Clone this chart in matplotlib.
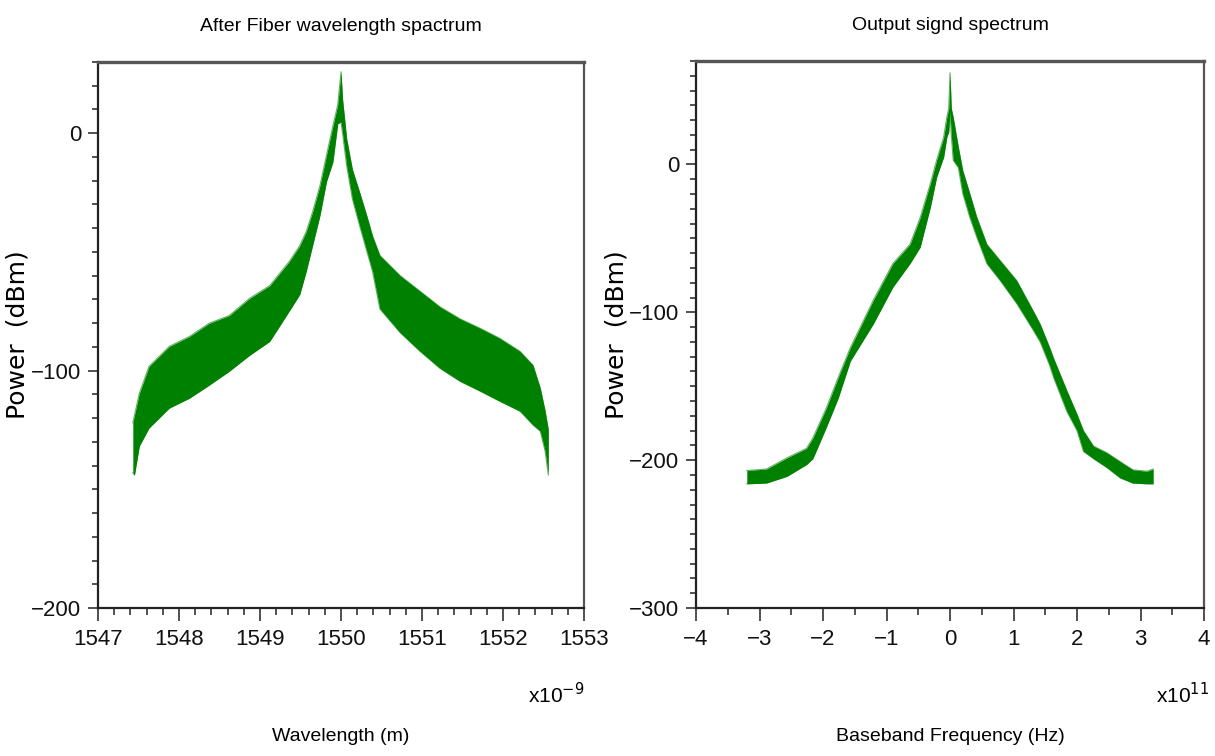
import matplotlib
matplotlib.use("Agg")
import matplotlib.pyplot as plt
from matplotlib.ticker import MultipleLocator

plt.rcParams['font.family'] = ['Liberation Sans', 'DejaVu Sans']

# left panel: wavelength (nm) with upper / lower edge of the noisy trace (dBm)
wl_nm = [1547.43, 1547.45, 1547.51, 1547.63, 1547.88, 1548.13, 1548.37, 1548.62,
         1548.87, 1549.12, 1549.36, 1549.49, 1549.57, 1549.65, 1549.74, 1549.82,
         1549.90, 1549.96, 1550.00, 1550.02, 1550.07, 1550.14, 1550.23, 1550.32,
         1550.39, 1550.48, 1550.73, 1550.97, 1551.22, 1551.47, 1551.72, 1551.96,
         1552.21, 1552.37, 1552.46, 1552.52, 1552.56]
wl_upper = [-122, -118.8, -109.6, -98.2, -89.8, -85.6, -80.1, -76.8,
            -69.6, -64.2, -54.1, -47.4, -41.5, -33.1, -22.1, -9.4,
            3.1, 12, 25.9, 14, -2.4, -15.2, -24.9, -35,
            -43.4, -51.5, -60, -66.4, -73.1, -78.2, -82.2, -86.4,
            -91.9, -97.7, -107.4, -117, -125]
wl_lower = [-143, -144, -131.8, -124.2, -115.8, -111.6, -106.2, -100.3,
            -93.6, -87.7, -75, -68, -58.3, -47.2, -34.7, -20.5,
            -12.1, 4, 4.7, -0.3, -13.7, -27.6, -39, -49.9,
            -58.3, -74, -84, -91.7, -99, -104.5, -108.7, -112.9,
            -117.1, -122.9, -125.5, -134, -144]

# right panel: baseband frequency (x1e11 Hz) with upper / lower edge (dBm)
freq = [-3.2, -2.89, -2.57, -2.26, -2.16, -1.95, -1.76, -1.57, -1.21, -0.9,
        -0.63, -0.47, -0.31, -0.21, -0.1, -0.05, -0.02, 0.0, 0.02, 0.05,
        0.13, 0.2, 0.31, 0.42, 0.58, 0.79, 1.05, 1.31, 1.42, 1.57,
        1.63, 1.84, 2.0, 2.1, 2.26, 2.47, 2.68, 2.88, 3.1, 3.2]
freq_upper = [-207, -206, -198.5, -192, -185, -165, -144, -124, -92, -67,
              -54, -36, -13, 3, 18.5, 32, 38, 62, 38, 32,
              12, -4, -19.5, -35.5, -54, -65, -78.5, -99, -108, -124,
              -131, -153, -169, -180, -190.5, -195, -201, -206.5, -207.5, -206]
freq_lower = [-216, -215.5, -211, -203, -199, -178, -158, -133, -108, -83,
              -67, -56, -29, -8.5, 5, 18.5, 22, 35, 20, 3,
              -2, -19.5, -35.5, -49, -67, -78.5, -94, -112, -120, -136,
              -144, -167, -180, -194, -199, -205, -212, -215.5, -216, -216]

GREEN = '#008000'
W, H = 1215, 756


def style_axes(ax, xmaj, xmin, ymaj, ymin):
    ax.xaxis.set_major_locator(MultipleLocator(xmaj))
    ax.xaxis.set_minor_locator(MultipleLocator(xmin))
    ax.yaxis.set_major_locator(MultipleLocator(ymaj))
    ax.yaxis.set_minor_locator(MultipleLocator(ymin))
    ax.tick_params(axis='both', which='both', direction='out', color='#333333',
                   width=1.2, labelsize=16, labelcolor='#111111')
    ax.tick_params(axis='x', which='major', length=9, pad=6)
    ax.tick_params(axis='x', which='minor', length=5)
    ax.tick_params(axis='y', which='major', length=7, pad=5)
    ax.tick_params(axis='y', which='minor', length=4)
    ax.tick_params(top=False, right=False)
    for side in ['left', 'bottom']:
        ax.spines[side].set_color('#222222')
        ax.spines[side].set_linewidth(1.6)
    for side in ['top', 'right']:
        ax.spines[side].set_color('#555555')
        ax.spines[side].set_linewidth(1.6)
    ax.spines['top'].set_linewidth(2.4)


fig = plt.figure(figsize=(W / 100, H / 100), dpi=100)

# --- left: after fiber ---
ax1 = fig.add_axes([98 / W, 1 - 608 / H, 486 / W, 546 / H])
ax1.fill_between(wl_nm, wl_lower, wl_upper, color=GREEN, linewidth=0)
ax1.plot(wl_nm, wl_upper, color=GREEN, lw=0.8, alpha=0.6)
ax1.plot(wl_nm, wl_lower, color=GREEN, lw=0.8, alpha=0.6)
ax1.set_xlim(1547, 1553)
ax1.set_ylim(-200, 30)
style_axes(ax1, 1, 0.2, 100, 10)
ax1.set_title('After Fiber wavelength spactrum', fontsize=14, pad=22)
ax1.set_xlabel('Wavelength (m)', fontsize=14, labelpad=56)
ax1.set_ylabel('Power  (dBm)', fontsize=18, family='DejaVu Sans')
ax1.yaxis.set_label_coords(-0.14, 0.5)
ax1.text(1.0, -0.174, r'x10$^{-9}$', transform=ax1.transAxes, ha='right',
         va='baseline', fontsize=15)

# --- right: output signal ---
ax2 = fig.add_axes([696 / W, 1 - 608 / H, 508 / W, 547 / H])
ax2.fill_between(freq, freq_lower, freq_upper, color=GREEN, linewidth=0)
ax2.plot(freq, freq_upper, color=GREEN, lw=0.8, alpha=0.6)
ax2.plot(freq, freq_lower, color=GREEN, lw=0.8, alpha=0.6)
ax2.set_xlim(-4, 4)
ax2.set_ylim(-300, 70)
style_axes(ax2, 1, 0.5, 100, 10)
ax2.set_title('Output signd spectrum', fontsize=14, pad=22)
ax2.set_xlabel('Baseband Frequency (Hz)', fontsize=14, labelpad=56)
ax2.set_ylabel('Power  (dBm)', fontsize=18, family='DejaVu Sans')
ax2.yaxis.set_label_coords(-0.132, 0.5)
ax2.text(1.01, -0.174, r'x10$^{11}$', transform=ax2.transAxes, ha='right',
         va='baseline', fontsize=15)

fig.savefig('out.png', dpi=100)
